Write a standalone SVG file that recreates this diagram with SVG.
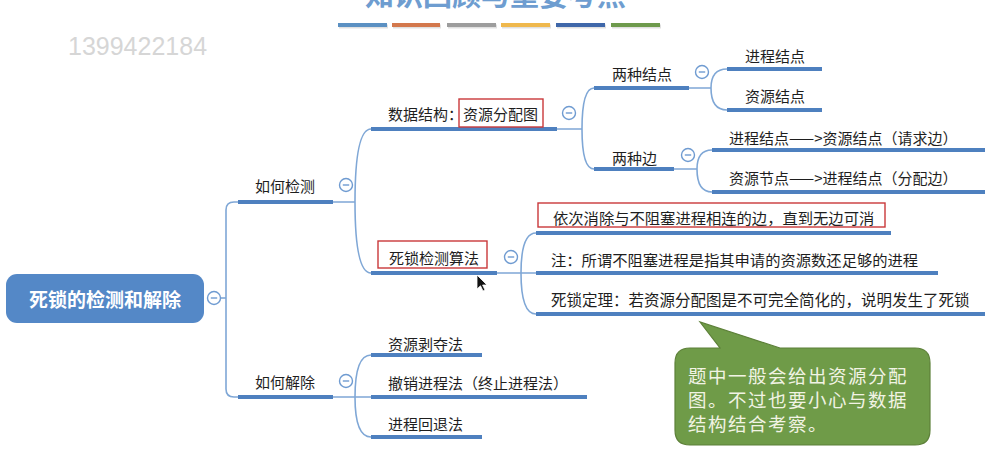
<svg xmlns="http://www.w3.org/2000/svg" width="994" height="467" viewBox="0 0 994 467">
<style>
.t{font-family:"Noto Sans CJK SC","Noto Sans",sans-serif;font-size:15px;fill:#1e1e1e;dominant-baseline:central}
.ul{stroke:#4e80bf;stroke-width:4;fill:none}
.cn{stroke:#7fa7d6;stroke-width:1.6;fill:none}
.red{fill:none;stroke:#c9383a;stroke-width:1.4}
.co{font-family:"Noto Sans CJK SC",sans-serif;font-size:18.5px;letter-spacing:1.5px;fill:#f1f3e4;dominant-baseline:central}
</style>
<defs>
<g id="minus"><circle cx="0" cy="0" r="6.5" fill="#ffffff" stroke="#6f9bd1" stroke-width="1.4"/><line x1="-3.2" y1="0" x2="3.2" y2="0" stroke="#6f9bd1" stroke-width="1.4"/></g>
</defs>
<rect width="994" height="467" fill="#fff"/>
<text x="365" y="6" style="font-family:'Noto Sans CJK SC',sans-serif;font-size:29px;font-weight:bold;fill:#6e9dd0">知识回顾与重要考点</text>
<g id="bars">
<rect x="339" y="24.5" width="49" height="4" fill="#000" opacity="0.12"/>
<rect x="393" y="24.5" width="48" height="4" fill="#000" opacity="0.12"/>
<rect x="448" y="24.5" width="49" height="4" fill="#000" opacity="0.12"/>
<rect x="502" y="24.5" width="49" height="4" fill="#000" opacity="0.12"/>
<rect x="557" y="24.5" width="49" height="4" fill="#000" opacity="0.12"/>
<rect x="612" y="24.5" width="49" height="4" fill="#000" opacity="0.12"/>
<rect x="338" y="23" width="49" height="4" fill="#5b90c2"/>
<rect x="392" y="23" width="48" height="4" fill="#d3784c"/>
<rect x="447" y="23" width="49" height="4" fill="#9d9d9d"/>
<rect x="501" y="23" width="49" height="4" fill="#efb84d"/>
<rect x="556" y="23" width="49" height="4" fill="#3f67a9"/>
<rect x="611" y="23" width="49" height="4" fill="#6e9a4c"/>
</g>
<text x="68" y="55" style="font-family:'Liberation Sans',Arial,sans-serif;font-size:25px;fill:#d6d6d6">1399422184</text>

<g id="connectors">
<path class="cn" d="M221,298 H226"/>
<path class="cn" d="M238,202 H234 Q226,202 226,210 V389 Q226,397 234,397 H238"/>
<path class="cn" d="M333,202 H355 M355,202 Q355,129 371,129 M355,202 Q355,273 371,273"/>
<path class="cn" d="M557,129 H582 M582,129 Q582,88 594,88 M582,129 Q582,169 594,169"/>
<path class="cn" d="M689,88 H711 M711,88 Q711,69 727,69 M711,88 Q711,110 727,110"/>
<path class="cn" d="M674,169 H697 M697,169 Q697,150 712,150 M697,169 Q697,192 712,192"/>
<path class="cn" d="M497,273 H536 M521,273 Q521,233 536,233 M521,273 Q521,314 536,314"/>
<path class="cn" d="M333,397 H371 M355,397 Q355,355 371,355 M355,397 Q355,437 371,437"/>
</g>

<g id="root">
<rect x="6" y="274" width="198" height="49" rx="11" fill="#5488c7"/>
<text x="105" y="298" text-anchor="middle" style="font-family:'Noto Sans CJK SC',sans-serif;font-size:19px;font-weight:bold;fill:#fff;dominant-baseline:central">死锁的检测和解除</text>
</g>

<g id="detect"><line class="ul" x1="238" y1="202" x2="333" y2="202"/><text class="t" x="255" y="185">如何检测</text></g>
<g id="remove"><line class="ul" x1="238" y1="397" x2="333" y2="397"/><text class="t" x="255" y="381">如何解除</text></g>

<g id="datastruct"><line class="ul" x1="371" y1="129" x2="557" y2="129"/><rect class="red" x="459" y="99" width="84" height="28"/><text class="t" x="388" y="113">数据结构：资源分配图</text></g>
<g id="algo"><line class="ul" x1="371" y1="273" x2="497" y2="273"/><rect class="red" x="378" y="241" width="109" height="27"/><text class="t" x="389" y="257">死锁检测算法</text></g>

<g id="twonodes"><line class="ul" x1="594" y1="88" x2="689" y2="88"/><text class="t" x="612" y="73">两种结点</text></g>
<g id="twoedges"><line class="ul" x1="594" y1="169" x2="674" y2="169"/><text class="t" x="612" y="157">两种边</text></g>
<g id="procnode"><line class="ul" x1="727" y1="69" x2="822" y2="69"/><text class="t" x="745" y="55">进程结点</text></g>
<g id="resnode"><line class="ul" x1="727" y1="110" x2="822" y2="110"/><text class="t" x="745" y="95">资源结点</text></g>
<g id="reqedge"><line class="ul" x1="712" y1="150" x2="985" y2="150"/><text class="t" x="729" y="137">进程结点——&gt;资源结点（请求边）</text></g>
<g id="allocedge"><line class="ul" x1="712" y1="192" x2="985" y2="192"/><text class="t" x="729" y="177">资源节点——&gt;进程结点（分配边）</text></g>

<g id="step1"><line class="ul" x1="536" y1="233" x2="891" y2="233"/><rect class="red" x="538" y="203" width="347" height="24"/><text class="t" x="553" y="217" style="font-size:15.3px">依次消除与不阻塞进程相连的边，直到无边可消</text></g>
<g id="note"><line class="ul" x1="536" y1="273" x2="938" y2="273"/><text class="t" x="551" y="259" style="font-size:15.3px">注：所谓不阻塞进程是指其申请的资源数还足够的进程</text></g>
<g id="theorem"><line class="ul" x1="536" y1="314" x2="985" y2="314"/><text class="t" x="551" y="299" style="font-size:15.5px">死锁定理：若资源分配图是不可完全简化的，说明发生了死锁</text></g>

<g id="preempt"><line class="ul" x1="371" y1="355" x2="482" y2="355"/><text class="t" x="388" y="343">资源剥夺法</text></g>
<g id="kill"><line class="ul" x1="371" y1="397" x2="587" y2="397"/><text class="t" x="388" y="382">撤销进程法（终止进程法）</text></g>
<g id="rollback"><line class="ul" x1="371" y1="437" x2="482" y2="437"/><text class="t" x="388" y="423">进程回退法</text></g>

<g id="collapse">
<use href="#minus" x="214" y="298"/>
<use href="#minus" x="346" y="185"/>
<use href="#minus" x="346" y="381"/>
<use href="#minus" x="569" y="113"/>
<use href="#minus" x="511" y="257"/>
<use href="#minus" x="702" y="72"/>
<use href="#minus" x="688" y="155"/>
</g>

<g id="callout">
<path d="M690,348 H720 L700,322 L780,348 H915 Q930,348 930,363 V430 Q930,445 915,445 H690 Q675,445 675,430 V363 Q675,348 690,348 Z" fill="#6f9b48" stroke="#5d8039" stroke-width="1.2"/>
<text class="co" x="688" y="375">题中一般会给出资源分配</text>
<text class="co" x="688" y="399">图。不过也要小心与数据</text>
<text class="co" x="688" y="423">结构结合考察。</text>
</g>

<path id="cursor" d="M477,275 V289 L480.5,285.8 L483,291 L485,290 L482.6,285 L487,285 Z" fill="#111" stroke="#fff" stroke-width="0.8"/>
</svg>
